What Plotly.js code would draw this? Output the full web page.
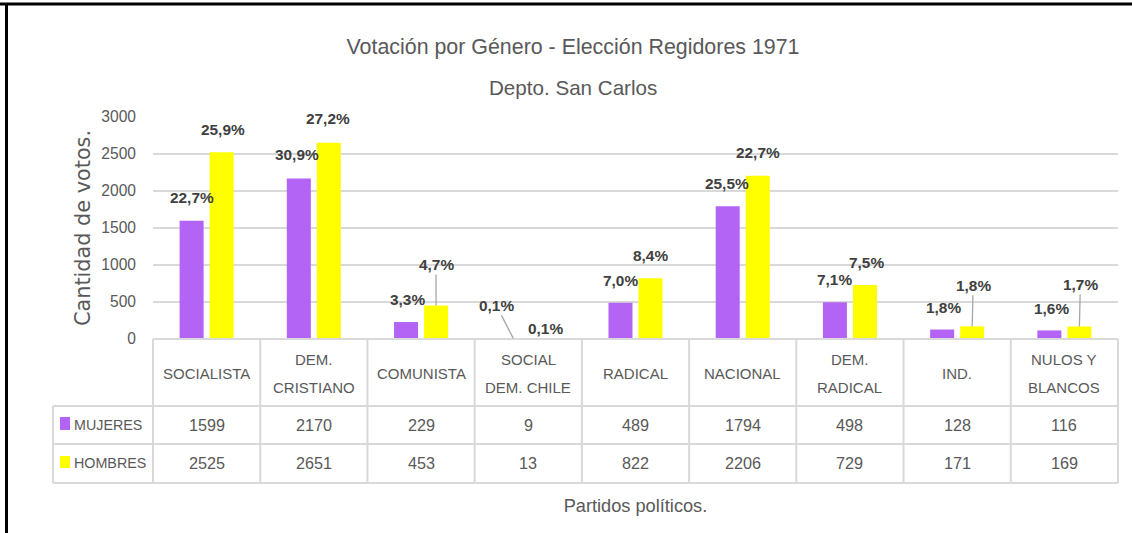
<!DOCTYPE html>
<html>
<head>
<meta charset="utf-8">
<script src="https://cdn.plot.ly/plotly-3.0.1.min.js"></script>
<style>
  html, body { margin: 0; padding: 0; background: #ffffff; }
  #chart { width: 1132px; height: 533px; }
</style>
</head>
<body>
<div id="chart"></div>
<script>
// ---------------- data ----------------
const categories = ['SOCIALISTA', 'DEM. CRISTIANO', 'COMUNISTA', 'SOCIAL DEM. CHILE', 'RADICAL', 'NACIONAL', 'DEM. RADICAL', 'IND.', 'NULOS Y BLANCOS'];
const categoryLabels = ['SOCIALISTA', 'DEM.<br>CRISTIANO', 'COMUNISTA', 'SOCIAL<br>DEM. CHILE', 'RADICAL', 'NACIONAL', 'DEM.<br>RADICAL', 'IND.', 'NULOS Y<br>BLANCOS'];
const seriesNames = ['MUJERES', 'HOMBRES'];
const mujeres = [1599, 2170, 229, 9, 489, 1794, 498, 128, 116];
const hombres = [2525, 2651, 453, 13, 822, 2206, 729, 171, 169];
const pctMujeres = ['22,7%', '30,9%', '3,3%', '0,1%', '7,0%', '25,5%', '7,1%', '1,8%', '1,6%'];
const pctHombres = ['25,9%', '27,2%', '4,7%', '0,1%', '8,4%', '22,7%', '7,5%', '1,8%', '1,7%'];
const yTicks = [0, 500, 1000, 1500, 2000, 2500, 3000];
const chartTitle = 'Votación por Género - Elección Regidores 1971';
const chartSubtitle = 'Depto. San Carlos';
const xTitle = 'Partidos políticos.';
const yTitle = 'Cantidad de votos.';

// ---------------- style / layout ----------------
const W = 1132, H = 533;
const M = { l: 153, r: 14, t: 117, b: 194 };
const PW = W - M.l - M.r, PH = H - M.t - M.b;
const FONT = '"Liberation Sans Narrow", "Arial Narrow", "Liberation Sans", Arial, sans-serif';
const GRAY = '#595959';
const LABEL = '#404040';
const LINE = '#D9D9D9';
const COLORS = ['#B464F5', '#FFFF00'];
const px = x => (x - M.l) / PW;          // pixel x -> paper x
const py = y => (H - M.b - y) / PH;      // pixel y -> paper y

// label placement per bar: [dx, dy, leaderLine]
const labelPlace = [
  [[0, -23], [-2, -24], [1, -23], [-17, -33, 1], [0, -22], [-1, -23], [0, -23], [1, -22], [2, -22]],
  [[1, -23], [-1, -24], [0, -41, 1], [2, -10], [0, -23], [0, -23], [2, -23], [1, -41, 1], [1, -42, 1]]
];
const BAR_OFFSET = 15;

const series = [mujeres, hombres];
const pcts = [pctMujeres, pctHombres];

const traces = series.map((vals, s) => ({
  type: 'bar',
  name: seriesNames[s],
  x: categories,
  y: vals,
  marker: { color: COLORS[s] },
  hovertemplate: '%{x}: %{y}<extra>' + seriesNames[s] + '</extra>'
}));

const annotations = [];

// data labels
series.forEach((vals, s) => {
  vals.forEach((v, i) => {
    const [dx, dy, lead] = labelPlace[s][i];
    const base = {
      x: categories[i], y: v, xref: 'x', yref: 'y',
      text: pcts[s][i], xanchor: 'center', yanchor: 'middle',
      font: { family: FONT, size: 15.4, color: LABEL, weight: 'bold' }
    };
    if (lead) {
      Object.assign(base, {
        showarrow: true, ax: dx, ay: dy, arrowhead: 0, arrowwidth: 1.3,
        arrowcolor: '#A6A6A6', standoff: 0, xshift: (s ? 1 : -1) * BAR_OFFSET
      });
    } else {
      Object.assign(base, {
        showarrow: false, xshift: (s ? 1 : -1) * BAR_OFFSET + dx, yshift: -dy
      });
    }
    annotations.push(base);
  });
});

// table header (category names)
categoryLabels.forEach((lab, i) => {
  const lines = lab.split('<br>');
  const ys = lines.length === 1 ? [373] : [359, 387];
  lines.forEach((t, k) => {
    annotations.push({
      x: categories[i], xref: 'x', y: py(ys[k]), yref: 'paper',
      xanchor: 'center', yanchor: 'middle',
      text: t, showarrow: false,
      font: { family: FONT, size: 15, color: GRAY }
    });
  });
});

// table values
const rowY = [425, 463];
series.forEach((vals, s) => {
  vals.forEach((v, i) => {
    annotations.push({
      x: categories[i], xref: 'x', y: py(rowY[s]), yref: 'paper',
      xanchor: 'center', yanchor: 'middle',
      text: String(v), showarrow: false,
      font: { family: FONT, size: 16.2, color: GRAY }
    });
  });
  annotations.push({
    x: px(72), xref: 'paper', xanchor: 'left', y: py(rowY[s]), yref: 'paper', yanchor: 'middle',
    text: seriesNames[s], showarrow: false,
    font: { family: FONT, size: 14.3, color: GRAY }
  });
});

// subtitle line
annotations.push({
  x: px(573), xref: 'paper', xanchor: 'center', y: py(87), yref: 'paper', yanchor: 'middle',
  text: chartSubtitle, showarrow: false,
  font: { family: FONT, size: 20.6, color: GRAY }
});

// shapes: table grid, legend keys, page border
const shapes = [];
const hl = (y, x0, x1) => shapes.push({ type: 'line', xref: 'paper', yref: 'paper', x0: px(x0), x1: px(x1), y0: py(y), y1: py(y), line: { color: LINE, width: 2 } });
const vl = (x, y0, y1) => shapes.push({ type: 'line', xref: 'paper', yref: 'paper', x0: x, x1: x, y0: py(y0), y1: py(y1), line: { color: LINE, width: 2 } });
hl(339, 153, 1118);
hl(406, 53, 1118);
hl(444, 53, 1118);
hl(483, 53, 1118);
for (let k = 0; k <= categories.length; k++) vl(k / categories.length, 339, 483);
vl(px(53), 406, 483);
// legend keys
[[417, 430], [456, 468]].forEach((r, s) => {
  shapes.push({ type: 'rect', xref: 'paper', yref: 'paper', x0: px(60), x1: px(70), y0: py(r[1]), y1: py(r[0]), fillcolor: COLORS[s], line: { width: 0 } });
});
// black frame (top and left)
shapes.push({ type: 'line', xref: 'paper', yref: 'paper', x0: px(0), x1: px(W), y0: py(4), y1: py(4), line: { color: '#000000', width: 3 } });
shapes.push({ type: 'line', xref: 'paper', yref: 'paper', x0: px(6.5), x1: px(6.5), y0: py(3), y1: py(H + 5), line: { color: '#000000', width: 3 } });

const layout = {
  width: W, height: H,
  margin: M,
  paper_bgcolor: '#ffffff', plot_bgcolor: '#ffffff',
  showlegend: false,
  barmode: 'group', bargap: 0.44, bargroupgap: 0.2,
  title: {
    text: chartTitle, xref: 'container', x: 573 / W, xanchor: 'center',
    yref: 'container', y: 1 - 47 / H, yanchor: 'middle',
    font: { family: FONT, size: 21.4, color: GRAY }
  },
  xaxis: {
    type: 'category', range: [-0.5, categories.length - 0.5],
    showticklabels: false, showgrid: false, zeroline: false, showline: false, ticks: '',
    fixedrange: true, automargin: false,
    title: { text: xTitle, standoff: 160, font: { family: FONT, size: 18.2, color: GRAY } }
  },
  yaxis: {
    range: [0, 3000], tickvals: yTicks, ticktext: yTicks.map(String),
    showgrid: true, gridcolor: LINE, gridwidth: 2, zeroline: false, showline: false,
    ticklabelstandoff: 16,
    tickfont: { family: FONT, size: 15.6, color: GRAY },
    fixedrange: true, automargin: false,
    title: { text: yTitle, standoff: 5, font: { family: '"DejaVu Sans", Verdana, sans-serif', size: 20.8, color: GRAY } }
  },
  annotations: annotations,
  shapes: shapes
};

Plotly.newPlot('chart', traces, layout, { displayModeBar: false });
</script>
</body>
</html>
